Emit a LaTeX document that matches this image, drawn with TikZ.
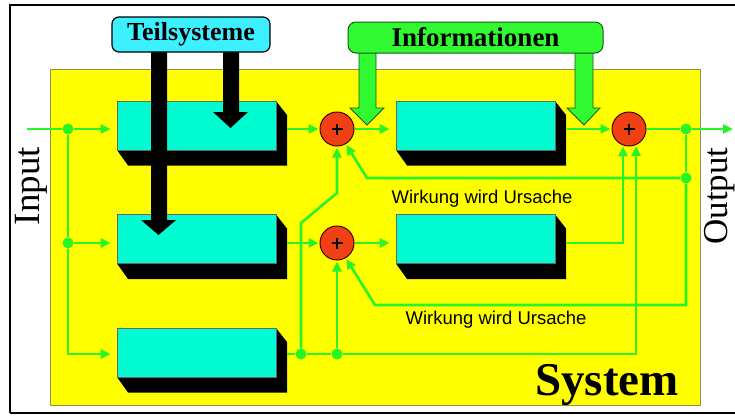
\documentclass[tikz,border=0pt]{standalone}
\usepackage{fontspec}
\setmainfont{Liberation Serif}
\newfontfamily\labelfont{Liberation Sans}
\usetikzlibrary{arrows.meta}
\definecolor{sysyellow}{RGB}{255,255,0}
\definecolor{sysborder}{RGB}{150,140,70}
\definecolor{blockcyan}{RGB}{0,252,208}
\definecolor{tsycyan}{RGB}{60,240,255}
\definecolor{linegreen}{RGB}{40,245,40}
\definecolor{infogreen}{RGB}{50,250,50}
\definecolor{infoborder}{RGB}{20,90,20}
\definecolor{adderred}{RGB}{240,64,20}
\newcommand{\sysblock}[3]{%
  \fill[black] (#2+79.5,#3-24.5) -- (#2+90.5,#3-10.5) -- (#2+90.5,#3+40) -- (#2-68.5,#3+40) -- (#2-79.5,#3+24.5) -- cycle;
  \node[blockface] (#1) at (#2,#3) {};}
\newcommand{\addersign}[1]{%
  \draw[line width=2.4pt] ([xshift=-5.5pt]#1.center) -- ([xshift=5.5pt]#1.center)
    ([yshift=-5.5pt]#1.center) -- ([yshift=5.5pt]#1.center);}
\begin{document}
\begin{tikzpicture}[x=1pt,y=-1pt,
  gl/.style={draw=linegreen,line width=2.6pt},
  ga/.style={gl,-{Triangle[length=10pt,width=9pt]},shorten >=1pt},
  gab/.style={ga,shorten >=6pt},
  blockface/.style={draw=black!60,line width=0.6pt,fill=blockcyan,minimum width=159pt,minimum height=49pt,inner sep=0pt},
  adder/.style={circle,draw=black!70!red,line width=1pt,fill=adderred,minimum size=34pt,inner sep=0pt},
  jdot/.style={circle,fill=linegreen,minimum size=11pt,inner sep=0pt},
  txt/.style={inner sep=0pt}]
\useasboundingbox (0,0) rectangle (735,416);
\fill[white] (0,0) rectangle (735,416);
% outer frame
\draw[line width=1.2pt] (735,5) -- (10,5) -- (10,413);
\draw[line width=2pt] (10,413) -- (735,413);
% system area
\node[draw=sysborder,line width=1pt,fill=sysyellow,minimum width=650pt,minimum height=336pt,inner sep=0pt] (sys) at (375,237) {};
% blocks
\sysblock{b1}{196.5}{125.5}
\sysblock{b2}{196.5}{239}
\sysblock{b3}{196.5}{352.5}
\sysblock{b4}{475.5}{125.5}
\sysblock{b5}{475.5}{239}
% adders and junctions
\node[adder] (a1) at (337,129) {};
\node[adder] (a2) at (337,243) {};
\node[adder] (a3) at (629,129) {};
\addersign{a1}\addersign{a2}\addersign{a3}
\node[jdot] (j1) at (68,129) {};
\node[jdot] (j2) at (68,243) {};
\node[jdot] (j3) at (301,354) {};
\node[jdot] (j4) at (337,354) {};
\node[jdot] (j5) at (686,129) {};
\node[jdot] (j6) at (686,178) {};
\coordinate (in) at (27,129);
\coordinate (out) at (734,129);
\coordinate (o1) at (287,129);
\coordinate (o2) at (287,243);
\coordinate (o3) at (287,354);
\coordinate (o4) at (567,129);
\coordinate (o5) at (567,243);
\coordinate (k1) at (301,223);
\coordinate (k2) at (337,193);
\coordinate (f1) at (367,178);
\coordinate (f2) at (375,305);
% connectors
\draw[gl] (in) -- (j1);
\draw[gab] (j1) -- (b1.west |- j1);
\draw[gl] (j1) -- (j2);
\draw[gab] (j2) -- (b2.west |- j2);
\draw[gab] (j2) |- (b3.west |- j3);
\draw[ga] (o1) -- (a1);
\draw[gab] (a1) -- (b4.west |- a1);
\draw[ga] (o4) -- (a3);
\draw[gl] (a3) -- (j5);
\draw[ga] (j5) -- (out);
\draw[gl] (j5) -- (j6);
\draw[ga] (j6) -- (f1) -- (a1.-60);
\draw[ga] (j6) |- (f2) -- (a2.-60);
\draw[ga] (o2) -- (a2);
\draw[gab] (a2) -- (b5.west |- a2);
\draw[ga] (o5) -| (a3.-110);
\draw[gl] (o3) -- (j3);
\draw[gl] (j3) -- (j4);
\draw[ga] (j4) -| (a3.-66);
\draw[ga] (j4) -- (a2);
\draw[ga] (j3) -- (k1) -- (k2) -- (a1);
% Teilsysteme arrows
\fill[black] (151,52) -- (151,220) -- (141,220) -- (158.5,235) -- (176,220) -- (167,220) -- (167,52) -- cycle;
\fill[black] (223,52) -- (223,112) -- (213,112) -- (230.5,128) -- (248,112) -- (239,112) -- (239,52) -- cycle;
\node[draw=black,line width=1.2pt,fill=tsycyan,rounded corners=7pt,minimum width=158pt,minimum height=35pt,inner sep=0pt,font=\bfseries\fontsize{26}{26}\selectfont] (ts) at (191,34.5) {Teilsysteme};
% Informationen arrows
\filldraw[fill=infogreen,draw=infoborder,line width=0.8pt] (359,45) -- (359,108) -- (350,108) -- (367,125) -- (384,108) -- (376,108) -- (376,45) -- cycle;
\filldraw[fill=infogreen,draw=infoborder,line width=0.8pt] (575,45) -- (575,108) -- (567,108) -- (584,125) -- (600,108) -- (593,108) -- (593,45) -- cycle;
\node[draw=infoborder,line width=1pt,fill=infogreen,rounded corners=8pt,minimum width=255pt,minimum height=31pt,inner sep=0pt,font=\bfseries\fontsize{27}{27}\selectfont] (inf) at (475.5,37.5) {Informationen};
% labels
\node[txt,rotate=90,anchor=base,font=\fontsize{37}{37}\selectfont] (inp) at (39,186) {Input};
\node[txt,rotate=90,anchor=base,font=\fontsize{35}{35}\selectfont] (outp) at (727,196) {Output};
\node[txt,anchor=base west,font=\bfseries\fontsize{47}{47}\selectfont] (sysl) at (535,395) {System};
\node[txt,anchor=base,font=\labelfont\fontsize{18.5}{18.5}\selectfont] (w1) at (482,203) {Wirkung wird Ursache};
\node[txt,anchor=base,font=\labelfont\fontsize{18.5}{18.5}\selectfont] (w2) at (496,324) {Wirkung wird Ursache};
\end{tikzpicture}
\end{document}
